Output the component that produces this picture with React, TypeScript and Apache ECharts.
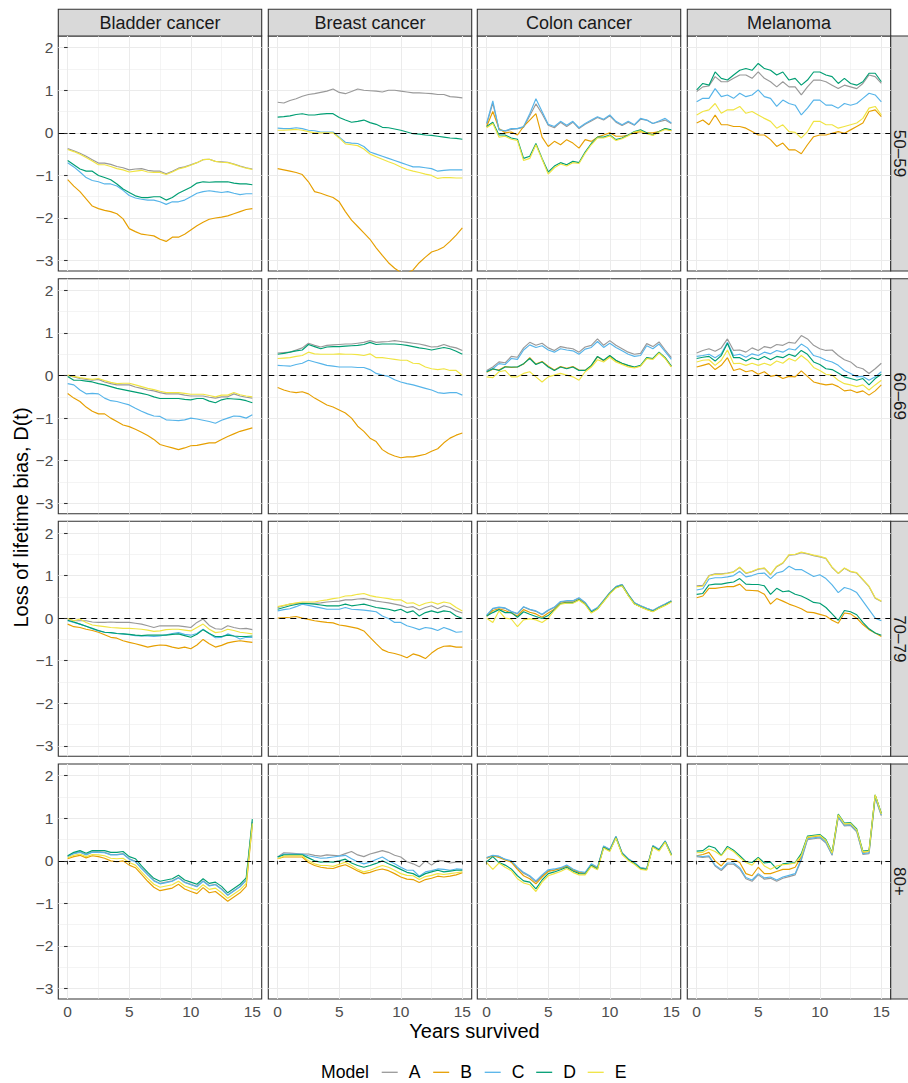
import { useEffect, useRef } from 'react';
import * as echarts from 'echarts';

const cancers = ['Bladder cancer', 'Breast cancer', 'Colon cancer', 'Melanoma'];
const ageGroups = ['50–59', '60–69', '70–79', '80+'];
const models = ['A', 'B', 'C', 'D', 'E'];
const modelColors = ['#999999', '#E69F00', '#56B4E9', '#009E73', '#F0E442'];
const years = [0, 0.5, 1, 1.5, 2, 2.5, 3, 3.5, 4, 4.5, 5, 5.5, 6, 6.5, 7, 7.5, 8, 8.5, 9, 9.5, 10, 10.5, 11, 11.5, 12, 12.5, 13, 13.5, 14, 14.5, 15];
const xTickValues = [0, 5, 10, 15];
const xMinorValues = [2.5, 7.5, 12.5];
const yTickValues = [-3, -2, -1, 0, 1, 2];
const yMinorValues = [-2.5, -1.5, -0.5, 0.5, 1.5];
const xAxisTitle = 'Years survived';
const yAxisTitle = 'Loss of lifetime bias, D(t)';
const legendTitle = 'Model';

// ---- 50–59 ----
const bladder5059A = [-0.37,-0.42,-0.48,-0.55,-0.63,-0.71,-0.71,-0.74,-0.79,-0.82,-0.87,-0.85,-0.84,-0.88,-0.9,-0.9,-0.96,-0.9,-0.83,-0.8,-0.75,-0.7,-0.63,-0.62,-0.67,-0.68,-0.69,-0.73,-0.78,-0.82,-0.85];
const bladder5059B = [-1.1,-1.25,-1.38,-1.55,-1.72,-1.78,-1.82,-1.85,-1.9,-2.02,-2.25,-2.32,-2.38,-2.4,-2.42,-2.5,-2.55,-2.45,-2.45,-2.38,-2.28,-2.18,-2.1,-2.03,-2.0,-1.98,-1.95,-1.9,-1.85,-1.8,-1.78];
const bladder5059C = [-0.7,-0.8,-0.92,-1.05,-1.12,-1.15,-1.2,-1.2,-1.25,-1.35,-1.47,-1.53,-1.56,-1.58,-1.58,-1.62,-1.68,-1.62,-1.62,-1.58,-1.5,-1.42,-1.38,-1.36,-1.38,-1.4,-1.38,-1.42,-1.45,-1.43,-1.43];
const bladder5059D = [-0.65,-0.75,-0.85,-0.9,-0.9,-1.0,-1.05,-1.1,-1.2,-1.32,-1.4,-1.48,-1.52,-1.52,-1.5,-1.5,-1.58,-1.52,-1.42,-1.35,-1.28,-1.18,-1.15,-1.16,-1.15,-1.15,-1.15,-1.18,-1.2,-1.2,-1.22];
const bladder5059E = [-0.39,-0.44,-0.5,-0.58,-0.66,-0.75,-0.75,-0.79,-0.84,-0.87,-0.92,-0.9,-0.88,-0.92,-0.93,-0.93,-0.98,-0.92,-0.85,-0.81,-0.76,-0.7,-0.63,-0.62,-0.67,-0.69,-0.7,-0.74,-0.79,-0.83,-0.86];

const breast5059A = [0.72,0.7,0.76,0.8,0.86,0.9,0.92,0.95,0.98,1.03,0.95,0.92,0.97,1.03,1.0,0.99,0.98,0.96,1.0,1.0,0.98,0.96,0.94,0.94,0.93,0.92,0.9,0.9,0.85,0.84,0.82];
const breast5059B = [-0.84,-0.87,-0.9,-0.93,-0.98,-1.15,-1.38,-1.42,-1.47,-1.52,-1.62,-1.85,-2.05,-2.2,-2.35,-2.5,-2.7,-2.88,-3.05,-3.18,-3.28,-3.3,-3.22,-3.05,-2.92,-2.8,-2.75,-2.68,-2.55,-2.4,-2.23];
const breast5059C = [0.11,0.1,0.1,0.12,0.1,0.06,0.05,0.02,0.02,0.02,-0.1,-0.22,-0.24,-0.25,-0.32,-0.45,-0.5,-0.55,-0.6,-0.65,-0.7,-0.75,-0.8,-0.8,-0.82,-0.84,-0.9,-0.88,-0.87,-0.87,-0.87];
const breast5059D = [0.37,0.38,0.4,0.43,0.45,0.42,0.42,0.44,0.45,0.45,0.36,0.3,0.25,0.27,0.3,0.24,0.2,0.13,0.12,0.09,0.06,0.02,-0.02,-0.03,-0.05,-0.06,-0.08,-0.1,-0.12,-0.13,-0.15];
const breast5059E = [0.06,0.06,0.07,0.08,0.06,0.03,0.0,0.0,0.0,0.0,-0.12,-0.26,-0.28,-0.3,-0.38,-0.5,-0.56,-0.62,-0.68,-0.73,-0.8,-0.86,-0.9,-0.93,-0.97,-1.0,-1.07,-1.05,-1.05,-1.06,-1.06];

const colon5059A = [0.2,0.7,0.08,0.04,0.08,0.1,0.13,0.4,0.68,0.45,0.18,0.12,0.25,0.15,0.25,0.1,0.2,0.28,0.36,0.3,0.4,0.25,0.17,0.25,0.18,0.32,0.3,0.22,0.26,0.3,0.22];
const colon5059B = [0.15,0.5,0.1,0.0,0.02,-0.05,0.15,0.3,0.45,-0.1,-0.32,-0.2,-0.28,-0.16,-0.24,-0.36,-0.16,-0.2,-0.1,-0.05,0.0,-0.08,-0.08,-0.05,0.0,0.03,0.0,0.0,0.03,0.1,0.05];
const colon5059C = [0.23,0.75,0.07,0.05,0.1,0.1,0.15,0.45,0.8,0.5,0.2,0.15,0.27,0.18,0.27,0.12,0.22,0.3,0.38,0.32,0.42,0.27,0.19,0.27,0.19,0.34,0.3,0.22,0.28,0.34,0.23];
const colon5059D = [0.15,0.25,-0.05,-0.05,-0.12,-0.15,-0.6,-0.55,-0.25,-0.6,-0.92,-0.78,-0.7,-0.75,-0.67,-0.7,-0.45,-0.25,-0.1,-0.1,-0.05,-0.16,-0.12,-0.05,0.03,0.07,0.0,-0.05,0.03,0.1,0.07];
const colon5059E = [0.12,0.22,-0.1,-0.08,-0.15,-0.18,-0.65,-0.6,-0.28,-0.62,-0.97,-0.82,-0.73,-0.78,-0.7,-0.72,-0.48,-0.28,-0.12,-0.12,-0.07,-0.18,-0.14,-0.07,0.02,0.05,-0.02,-0.06,0.02,0.08,0.05];

const melanoma5059A = [0.97,1.08,1.1,1.32,1.2,1.2,1.28,1.36,1.36,1.28,1.43,1.28,1.2,1.08,1.2,1.08,1.08,0.89,1.08,1.24,1.24,1.2,1.12,1.04,1.12,1.08,1.04,1.16,1.36,1.32,1.16];
const melanoma5059B = [0.23,0.3,0.19,0.42,0.19,0.19,0.15,0.15,0.11,0.03,-0.05,-0.05,-0.16,-0.32,-0.24,-0.4,-0.4,-0.49,-0.28,-0.09,-0.05,-0.05,-0.01,0.03,-0.01,0.07,0.15,0.23,0.5,0.54,0.38];
const melanoma5059C = [0.73,0.81,0.81,1.04,0.85,0.89,0.81,0.93,0.85,0.89,1.01,0.85,0.81,0.62,0.77,0.69,0.65,0.42,0.58,0.77,0.77,0.65,0.65,0.58,0.69,0.65,0.69,0.81,0.93,0.89,0.73];
const melanoma5059D = [1.01,1.16,1.12,1.43,1.28,1.24,1.36,1.47,1.51,1.47,1.63,1.51,1.47,1.36,1.43,1.24,1.28,1.12,1.24,1.43,1.43,1.36,1.32,1.16,1.28,1.16,1.12,1.2,1.4,1.4,1.2];
const melanoma5059E = [0.42,0.5,0.54,0.69,0.46,0.54,0.54,0.62,0.46,0.5,0.42,0.34,0.27,0.11,0.19,0.03,0.01,-0.12,0.03,0.27,0.27,0.19,0.19,0.11,0.15,0.19,0.23,0.34,0.58,0.62,0.42];

// ---- 60–69 ----
const bladder6069A = [0,-0.03,-0.07,-0.09,-0.11,-0.09,-0.15,-0.19,-0.22,-0.22,-0.22,-0.27,-0.3,-0.34,-0.36,-0.4,-0.43,-0.43,-0.43,-0.46,-0.48,-0.48,-0.48,-0.51,-0.53,-0.5,-0.5,-0.43,-0.48,-0.51,-0.53];
const bladder6069B = [-0.42,-0.53,-0.61,-0.74,-0.84,-0.9,-0.9,-1.0,-1.08,-1.16,-1.2,-1.26,-1.33,-1.41,-1.5,-1.62,-1.66,-1.7,-1.74,-1.7,-1.65,-1.64,-1.61,-1.58,-1.58,-1.5,-1.43,-1.37,-1.31,-1.27,-1.23];
const bladder6069C = [-0.19,-0.22,-0.34,-0.43,-0.42,-0.43,-0.53,-0.59,-0.61,-0.65,-0.69,-0.77,-0.84,-0.9,-0.95,-0.96,-1.04,-1.05,-1.06,-1.04,-1.0,-1.02,-1.05,-1.08,-1.12,-1.05,-1.0,-0.95,-0.96,-1.0,-0.92];
const bladder6069D = [-0.02,-0.11,-0.11,-0.13,-0.15,-0.19,-0.22,-0.26,-0.3,-0.33,-0.36,-0.39,-0.42,-0.45,-0.5,-0.54,-0.54,-0.54,-0.54,-0.56,-0.57,-0.54,-0.54,-0.6,-0.64,-0.57,-0.54,-0.55,-0.56,-0.59,-0.64];
const bladder6069E = [0.01,-0.02,-0.05,-0.07,-0.09,-0.07,-0.12,-0.16,-0.19,-0.18,-0.18,-0.22,-0.26,-0.3,-0.33,-0.37,-0.4,-0.4,-0.4,-0.42,-0.44,-0.44,-0.44,-0.47,-0.5,-0.46,-0.46,-0.4,-0.45,-0.48,-0.5];

const breast6069A = [0.53,0.54,0.55,0.6,0.65,0.76,0.71,0.67,0.71,0.72,0.73,0.74,0.74,0.76,0.78,0.82,0.78,0.79,0.8,0.82,0.8,0.78,0.76,0.74,0.71,0.67,0.68,0.73,0.68,0.65,0.59];
const breast6069B = [-0.28,-0.34,-0.38,-0.4,-0.38,-0.43,-0.53,-0.61,-0.69,-0.74,-0.81,-0.88,-1.0,-1.19,-1.31,-1.47,-1.55,-1.74,-1.83,-1.89,-1.93,-1.91,-1.91,-1.88,-1.85,-1.78,-1.72,-1.58,-1.47,-1.4,-1.35];
const breast6069C = [0.24,0.23,0.22,0.26,0.29,0.36,0.32,0.28,0.24,0.22,0.2,0.2,0.2,0.19,0.19,0.14,0.05,0.01,-0.02,-0.1,-0.15,-0.19,-0.22,-0.26,-0.3,-0.34,-0.4,-0.42,-0.4,-0.4,-0.46];
const breast6069D = [0.5,0.52,0.55,0.58,0.6,0.73,0.68,0.63,0.67,0.68,0.68,0.69,0.7,0.71,0.73,0.78,0.73,0.74,0.74,0.74,0.73,0.71,0.68,0.65,0.63,0.6,0.63,0.66,0.63,0.57,0.5];
const breast6069E = [0.4,0.41,0.42,0.45,0.47,0.55,0.51,0.5,0.5,0.5,0.51,0.5,0.5,0.49,0.47,0.51,0.42,0.42,0.4,0.38,0.36,0.36,0.29,0.28,0.2,0.16,0.14,0.16,0.12,0.12,0.0];

const colon6069A = [0.12,0.2,0.32,0.3,0.45,0.43,0.65,0.78,0.71,0.76,0.65,0.59,0.68,0.65,0.63,0.55,0.67,0.71,0.86,0.71,0.82,0.71,0.63,0.55,0.5,0.52,0.75,0.68,0.79,0.6,0.42];
const colon6069B = [0.08,0.15,0.13,0.21,0.19,0.2,0.27,0.42,0.27,0.33,0.22,0.13,0.21,0.17,0.21,0.13,0.12,0.23,0.44,0.35,0.46,0.35,0.28,0.23,0.19,0.23,0.41,0.39,0.54,0.41,0.21];
const colon6069C = [0.1,0.16,0.28,0.26,0.4,0.38,0.6,0.72,0.66,0.7,0.6,0.55,0.63,0.6,0.58,0.5,0.62,0.66,0.8,0.66,0.76,0.66,0.58,0.5,0.45,0.47,0.7,0.63,0.74,0.56,0.38];
const colon6069D = [0.09,0.16,0.12,0.2,0.2,0.2,0.28,0.4,0.26,0.32,0.2,0.12,0.2,0.16,0.2,0.12,0.12,0.24,0.45,0.36,0.47,0.36,0.29,0.24,0.2,0.24,0.42,0.4,0.55,0.42,0.22];
const colon6069E = [-0.03,-0.05,0.09,0.12,-0.03,-0.03,0.05,0.09,-0.03,-0.15,-0.03,0.01,0.05,0.01,-0.03,-0.11,0.09,0.2,0.37,0.32,0.43,0.32,0.26,0.2,0.18,0.22,0.4,0.38,0.53,0.4,0.2];

const melanoma6069A = [0.53,0.59,0.63,0.57,0.65,0.86,0.59,0.6,0.55,0.65,0.59,0.68,0.65,0.73,0.71,0.78,0.76,0.94,0.86,0.71,0.63,0.59,0.6,0.47,0.37,0.32,0.2,0.16,0.05,0.16,0.29];
const melanoma6069B = [0.2,0.24,0.28,0.14,0.24,0.42,0.12,0.16,0.09,0.12,0.03,0.09,-0.02,0.01,-0.07,-0.02,-0.03,0.11,-0.02,-0.15,-0.19,-0.22,-0.2,-0.26,-0.36,-0.34,-0.4,-0.36,-0.46,-0.36,-0.22];
const melanoma6069C = [0.45,0.47,0.5,0.42,0.51,0.78,0.47,0.5,0.43,0.51,0.47,0.55,0.51,0.59,0.55,0.63,0.6,0.74,0.65,0.47,0.43,0.36,0.32,0.24,0.12,0.05,-0.03,-0.02,-0.11,-0.03,0.09];
const melanoma6069D = [0.4,0.43,0.45,0.34,0.47,0.76,0.42,0.42,0.34,0.42,0.37,0.45,0.37,0.45,0.42,0.5,0.45,0.59,0.5,0.32,0.26,0.16,0.14,0.06,-0.03,-0.07,-0.11,-0.07,-0.22,-0.07,0.03];
const melanoma6069E = [0.32,0.36,0.37,0.24,0.36,0.6,0.28,0.29,0.24,0.29,0.24,0.29,0.24,0.34,0.29,0.4,0.34,0.47,0.36,0.19,0.12,0.03,0.01,-0.11,-0.19,-0.22,-0.26,-0.22,-0.34,-0.22,-0.11];

// ---- 70–79 ----
const bladder7079A = [-0.02,-0.06,-0.06,-0.06,-0.09,-0.1,-0.1,-0.09,-0.1,-0.1,-0.1,-0.12,-0.14,-0.18,-0.22,-0.18,-0.18,-0.18,-0.18,-0.2,-0.22,-0.1,-0.02,-0.17,-0.25,-0.26,-0.18,-0.22,-0.25,-0.24,-0.27];
const bladder7079B = [-0.14,-0.2,-0.22,-0.26,-0.29,-0.33,-0.39,-0.45,-0.47,-0.53,-0.57,-0.6,-0.64,-0.68,-0.65,-0.63,-0.64,-0.68,-0.71,-0.68,-0.72,-0.63,-0.5,-0.6,-0.68,-0.64,-0.58,-0.55,-0.53,-0.55,-0.57];
const bladder7079C = [-0.06,-0.1,-0.14,-0.19,-0.25,-0.3,-0.33,-0.34,-0.36,-0.37,-0.39,-0.41,-0.42,-0.42,-0.43,-0.42,-0.39,-0.36,-0.34,-0.38,-0.4,-0.36,-0.26,-0.36,-0.46,-0.45,-0.37,-0.42,-0.49,-0.45,-0.45];
const bladder7079D = [-0.05,-0.09,-0.14,-0.19,-0.24,-0.29,-0.33,-0.34,-0.36,-0.37,-0.38,-0.4,-0.41,-0.4,-0.4,-0.4,-0.4,-0.38,-0.37,-0.41,-0.45,-0.38,-0.27,-0.36,-0.43,-0.43,-0.4,-0.42,-0.43,-0.43,-0.42];
const bladder7079E = [-0.01,-0.06,-0.02,-0.1,-0.16,-0.18,-0.2,-0.22,-0.23,-0.24,-0.24,-0.25,-0.26,-0.28,-0.31,-0.3,-0.27,-0.26,-0.26,-0.28,-0.3,-0.22,-0.14,-0.26,-0.34,-0.32,-0.26,-0.29,-0.33,-0.35,-0.37];

const breast7079A = [0.25,0.29,0.33,0.34,0.35,0.35,0.35,0.36,0.38,0.39,0.4,0.43,0.43,0.45,0.46,0.43,0.4,0.38,0.36,0.33,0.3,0.25,0.27,0.19,0.25,0.29,0.22,0.29,0.25,0.17,0.12];
const breast7079B = [0.0,0.01,0.02,0.04,0.0,-0.03,-0.06,-0.08,-0.1,-0.11,-0.16,-0.18,-0.21,-0.24,-0.3,-0.45,-0.6,-0.74,-0.8,-0.83,-0.87,-0.93,-0.84,-0.88,-0.95,-0.82,-0.72,-0.66,-0.65,-0.68,-0.68];
const breast7079C = [0.17,0.2,0.22,0.27,0.33,0.3,0.27,0.24,0.21,0.21,0.21,0.25,0.21,0.2,0.19,0.17,0.15,0.05,-0.01,-0.1,-0.1,-0.18,-0.22,-0.27,-0.22,-0.24,-0.29,-0.22,-0.27,-0.33,-0.32];
const breast7079D = [0.21,0.25,0.29,0.32,0.35,0.34,0.33,0.31,0.29,0.29,0.29,0.33,0.29,0.31,0.33,0.29,0.25,0.23,0.21,0.17,0.21,0.13,0.17,0.05,0.13,0.17,0.13,0.17,0.15,0.05,-0.01];
const breast7079E = [0.27,0.3,0.33,0.36,0.38,0.38,0.38,0.41,0.43,0.46,0.48,0.52,0.53,0.56,0.58,0.53,0.5,0.48,0.46,0.43,0.43,0.35,0.36,0.29,0.35,0.38,0.33,0.38,0.35,0.25,0.17];

const colon7079A = [0.06,0.22,0.25,0.23,0.15,0.1,0.26,0.2,0.16,0.08,0.18,0.25,0.38,0.4,0.4,0.47,0.36,0.16,0.24,0.42,0.6,0.74,0.79,0.56,0.36,0.29,0.23,0.18,0.26,0.33,0.41];
const colon7079B = [0.04,0.18,0.22,0.18,0.12,0.05,0.2,0.14,0.1,0.02,0.12,0.21,0.35,0.37,0.37,0.44,0.34,0.14,0.22,0.4,0.58,0.72,0.77,0.54,0.34,0.27,0.21,0.16,0.24,0.31,0.39];
const colon7079C = [0.07,0.23,0.26,0.24,0.16,0.11,0.27,0.21,0.17,0.09,0.19,0.26,0.39,0.41,0.41,0.48,0.37,0.17,0.25,0.42,0.6,0.74,0.79,0.56,0.36,0.29,0.23,0.18,0.26,0.33,0.41];
const colon7079D = [0.05,0.13,0.2,0.13,0.13,0.02,0.15,0.09,0.04,-0.01,0.06,0.2,0.34,0.36,0.36,0.43,0.33,0.14,0.22,0.4,0.58,0.72,0.77,0.54,0.34,0.27,0.21,0.16,0.24,0.31,0.39];
const colon7079E = [0.0,-0.1,0.17,0.0,-0.02,-0.2,-0.04,-0.01,-0.04,-0.1,0.0,0.18,0.33,0.35,0.35,0.42,0.32,0.12,0.21,0.39,0.57,0.71,0.76,0.53,0.33,0.26,0.2,0.15,0.23,0.3,0.38];

const melanoma7079A = [0.76,0.77,1.0,1.04,1.04,1.06,1.09,1.19,1.05,1.09,1.15,1.17,1.02,1.21,1.29,1.48,1.49,1.54,1.51,1.47,1.44,1.4,1.19,1.05,1.17,1.09,1.06,0.9,0.74,0.47,0.39];
const melanoma7079B = [0.48,0.52,0.7,0.7,0.72,0.74,0.74,0.8,0.66,0.65,0.64,0.56,0.33,0.46,0.4,0.33,0.28,0.22,0.14,0.13,0.09,0.05,-0.05,-0.12,0.12,0.1,0.0,-0.15,-0.27,-0.35,-0.43];
const melanoma7079C = [0.66,0.69,0.92,0.95,0.95,0.97,1.0,1.1,0.97,1.0,1.05,1.06,0.93,1.06,1.1,1.22,1.14,1.14,1.06,0.98,1.02,0.93,0.78,0.6,0.72,0.68,0.6,0.4,0.2,0.0,-0.06];
const melanoma7079D = [0.56,0.58,0.78,0.8,0.8,0.83,0.85,0.93,0.8,0.79,0.79,0.76,0.56,0.7,0.62,0.64,0.56,0.52,0.45,0.37,0.35,0.25,0.1,-0.05,0.18,0.15,0.08,-0.1,-0.25,-0.35,-0.4];
const melanoma7079E = [0.74,0.75,0.99,1.03,1.03,1.05,1.08,1.2,1.06,1.1,1.16,1.18,1.03,1.22,1.3,1.49,1.5,1.55,1.52,1.48,1.45,1.41,1.2,1.05,1.18,1.1,1.07,0.91,0.75,0.48,0.4];

// ---- 80+ ----
const bladder80A = [0.11,0.18,0.21,0.15,0.21,0.21,0.2,0.15,0.15,0.17,0.05,-0.01,-0.17,-0.32,-0.46,-0.53,-0.5,-0.47,-0.39,-0.5,-0.55,-0.6,-0.47,-0.58,-0.55,-0.66,-0.8,-0.7,-0.6,-0.45,0.92];
const bladder80B = [0.05,0.1,0.13,0.07,0.12,0.1,0.06,0.0,-0.02,0.0,-0.1,-0.16,-0.32,-0.48,-0.62,-0.7,-0.67,-0.64,-0.55,-0.66,-0.72,-0.77,-0.63,-0.75,-0.72,-0.83,-0.95,-0.85,-0.75,-0.6,0.85];
const bladder80C = [0.1,0.17,0.2,0.14,0.2,0.2,0.19,0.14,0.14,0.16,0.04,-0.02,-0.18,-0.33,-0.47,-0.54,-0.51,-0.48,-0.4,-0.51,-0.56,-0.61,-0.48,-0.59,-0.56,-0.67,-0.81,-0.71,-0.61,-0.46,0.9];
const bladder80D = [0.12,0.2,0.24,0.18,0.24,0.24,0.24,0.2,0.2,0.22,0.1,0.05,-0.12,-0.27,-0.41,-0.48,-0.45,-0.42,-0.34,-0.45,-0.5,-0.55,-0.42,-0.53,-0.5,-0.6,-0.75,-0.65,-0.55,-0.4,0.98];
const bladder80E = [0.07,0.13,0.16,0.1,0.15,0.14,0.12,0.06,0.05,0.06,-0.04,-0.1,-0.26,-0.41,-0.55,-0.62,-0.59,-0.56,-0.48,-0.59,-0.64,-0.69,-0.56,-0.67,-0.64,-0.75,-0.88,-0.78,-0.68,-0.53,0.88];

const breast80A = [0.09,0.19,0.18,0.17,0.16,0.16,0.13,0.11,0.14,0.13,0.12,0.17,0.22,0.14,0.1,0.16,0.2,0.24,0.2,0.13,0.09,-0.02,-0.07,-0.14,0.0,-0.1,0.01,0.0,-0.05,-0.03,-0.03];
const breast80B = [0.05,0.09,0.09,0.09,0.09,-0.04,-0.11,-0.15,-0.17,-0.18,-0.13,-0.09,-0.16,-0.24,-0.3,-0.27,-0.22,-0.19,-0.23,-0.3,-0.38,-0.43,-0.44,-0.51,-0.44,-0.41,-0.36,-0.38,-0.36,-0.33,-0.28];
const breast80C = [0.09,0.16,0.16,0.16,0.16,0.12,0.09,0.06,0.07,0.09,0.11,0.13,0.05,-0.02,-0.07,-0.03,0.03,0.09,0.0,-0.07,-0.15,-0.22,-0.22,-0.36,-0.26,-0.23,-0.19,-0.2,-0.22,-0.19,-0.2];
const breast80D = [0.09,0.14,0.14,0.14,0.14,0.07,0.0,-0.03,-0.02,-0.03,0.0,0.04,-0.05,-0.11,-0.15,-0.11,-0.06,0.0,-0.07,-0.13,-0.2,-0.27,-0.3,-0.38,-0.3,-0.26,-0.22,-0.26,-0.24,-0.22,-0.22];
const breast80E = [0.05,0.11,0.12,0.12,0.12,0.0,-0.07,-0.11,-0.11,-0.13,-0.08,-0.03,-0.11,-0.2,-0.26,-0.22,-0.16,-0.11,-0.15,-0.22,-0.3,-0.34,-0.35,-0.44,-0.37,-0.34,-0.3,-0.32,-0.3,-0.28,-0.26];

const colon80A = [0.07,0.12,0.1,0.03,-0.01,-0.17,-0.29,-0.37,-0.5,-0.35,-0.23,-0.21,-0.18,-0.12,-0.21,-0.27,-0.29,-0.09,-0.17,0.33,0.25,0.56,0.18,0.04,-0.05,-0.17,-0.19,0.35,0.26,0.46,0.15];
const colon80B = [0.06,0.12,0.08,0.02,-0.03,-0.2,-0.35,-0.42,-0.54,-0.38,-0.25,-0.22,-0.18,-0.12,-0.21,-0.27,-0.29,-0.09,-0.17,0.34,0.26,0.57,0.18,0.04,-0.05,-0.17,-0.19,0.35,0.26,0.46,0.15];
const colon80C = [0.08,0.13,0.11,0.04,0.0,-0.15,-0.27,-0.35,-0.47,-0.33,-0.21,-0.19,-0.16,-0.1,-0.19,-0.25,-0.27,-0.07,-0.15,0.35,0.27,0.58,0.19,0.05,-0.04,-0.16,-0.18,0.36,0.27,0.47,0.16];
const colon80D = [-0.02,0.1,-0.04,-0.1,-0.19,-0.35,-0.47,-0.5,-0.66,-0.45,-0.3,-0.26,-0.21,-0.15,-0.24,-0.3,-0.31,-0.11,-0.19,0.32,0.24,0.55,0.17,0.03,-0.06,-0.18,-0.2,0.34,0.25,0.45,0.14];
const colon80E = [-0.04,-0.2,-0.05,-0.15,-0.23,-0.42,-0.52,-0.56,-0.72,-0.5,-0.35,-0.3,-0.25,-0.18,-0.27,-0.33,-0.33,-0.13,-0.21,0.3,0.22,0.54,0.15,0.01,-0.08,-0.2,-0.22,0.32,0.23,0.44,0.12];

const melanoma80A = [0.1,0.08,0.1,-0.12,-0.23,-0.08,-0.08,-0.19,-0.42,-0.48,-0.33,-0.43,-0.41,-0.48,-0.41,-0.37,-0.33,0.02,0.5,0.52,0.54,0.42,0.13,1.02,0.82,0.83,0.68,0.15,0.17,1.48,1.06];
const melanoma80B = [0.12,0.15,0.2,0.0,-0.12,0.05,0.03,-0.04,-0.3,-0.35,-0.15,-0.3,-0.3,-0.25,-0.2,-0.2,-0.15,0.1,0.55,0.57,0.59,0.47,0.17,1.07,0.86,0.87,0.72,0.2,0.22,1.54,1.1];
const melanoma80C = [0.12,0.1,0.12,-0.1,-0.2,-0.05,-0.05,-0.16,-0.39,-0.45,-0.3,-0.4,-0.38,-0.45,-0.38,-0.34,-0.3,0.05,0.52,0.54,0.56,0.44,0.15,1.04,0.84,0.85,0.7,0.17,0.19,1.5,1.08];
const melanoma80D = [0.23,0.24,0.35,0.3,0.13,0.34,0.25,0.12,-0.02,-0.04,0.08,-0.05,-0.03,-0.19,-0.07,-0.05,-0.04,0.17,0.58,0.6,0.62,0.5,0.2,1.1,0.89,0.9,0.75,0.23,0.25,1.55,1.12];
const melanoma80E = [0.19,0.2,0.28,0.22,0.12,0.3,0.22,0.08,-0.04,-0.1,0.06,-0.12,-0.2,-0.12,-0.09,-0.08,-0.05,0.12,0.56,0.58,0.6,0.48,0.18,1.08,0.87,0.88,0.73,0.21,0.23,1.55,1.1];

// rows = age groups, columns = cancers, inner = models A..E
const panelData = [
  [
    [bladder5059A, bladder5059B, bladder5059C, bladder5059D, bladder5059E],
    [breast5059A, breast5059B, breast5059C, breast5059D, breast5059E],
    [colon5059A, colon5059B, colon5059C, colon5059D, colon5059E],
    [melanoma5059A, melanoma5059B, melanoma5059C, melanoma5059D, melanoma5059E],
  ],
  [
    [bladder6069A, bladder6069B, bladder6069C, bladder6069D, bladder6069E],
    [breast6069A, breast6069B, breast6069C, breast6069D, breast6069E],
    [colon6069A, colon6069B, colon6069C, colon6069D, colon6069E],
    [melanoma6069A, melanoma6069B, melanoma6069C, melanoma6069D, melanoma6069E],
  ],
  [
    [bladder7079A, bladder7079B, bladder7079C, bladder7079D, bladder7079E],
    [breast7079A, breast7079B, breast7079C, breast7079D, breast7079E],
    [colon7079A, colon7079B, colon7079C, colon7079D, colon7079E],
    [melanoma7079A, melanoma7079B, melanoma7079C, melanoma7079D, melanoma7079E],
  ],
  [
    [bladder80A, bladder80B, bladder80C, bladder80D, bladder80E],
    [breast80A, breast80B, breast80C, breast80D, breast80E],
    [colon80A, colon80B, colon80C, colon80D, colon80E],
    [melanoma80A, melanoma80B, melanoma80C, melanoma80D, melanoma80E],
  ],
];

const FONT = '"Liberation Sans", Arial, Helvetica, sans-serif';
const XMIN = -0.76;
const XMAX = 15.76;
const YMIN = -3.245;
const YMAX = 2.275;
const colLeft = [58.3, 268.3, 477.3, 687.3];
const rowTop = [36, 278.7, 521.3, 764];
const PW = 203.4;
const PH = 235;

const fmt = (v: number) => (v < 0 ? '\u2212' + Math.abs(v) : String(v));

function buildOption() {
  const grid: any[] = [];
  const xAxis: any[] = [];
  const yAxis: any[] = [];
  const series: any[] = [];
  const graphic: any[] = [];

  for (let r = 0; r < 4; r++) {
    for (let c = 0; c < 4; c++) {
      const g = r * 4 + c;
      const bottom = r === 3;
      const left = c === 0;
      grid.push({
        left: colLeft[c], top: rowTop[r], width: PW, height: PH,
        show: true, borderColor: '#333333', borderWidth: 1.1, backgroundColor: '#FFFFFF',
      });
      xAxis.push({
        type: 'value', gridIndex: g, min: XMIN, max: XMAX, position: 'bottom',
        axisLine: { show: false },
        axisTick: { show: bottom, length: 3.6, lineStyle: { color: '#333333', width: 1.07 }, customValues: xTickValues },
        axisLabel: { show: bottom, customValues: xTickValues, margin: 4, fontSize: 15.5, color: '#4D4D4D', fontFamily: FONT, formatter: fmt },
        splitLine: { show: true, lineStyle: { color: '#EBEBEB', width: 1.07 } },
      });
      xAxis.push({
        type: 'value', gridIndex: g, min: XMIN, max: XMAX, position: 'top',
        axisLine: { show: false },
        axisTick: { show: false, customValues: xMinorValues },
        axisLabel: { show: false, customValues: xMinorValues },
        splitLine: { show: true, lineStyle: { color: '#EBEBEB', width: 0.55 } },
      });
      yAxis.push({
        type: 'value', gridIndex: g, min: YMIN, max: YMAX, position: 'left',
        axisLine: { show: false },
        axisTick: { show: left, length: 3.6, lineStyle: { color: '#333333', width: 1.07 }, customValues: yTickValues },
        axisLabel: { show: left, customValues: yTickValues, margin: 5, fontSize: 15.5, color: '#4D4D4D', fontFamily: FONT, formatter: fmt },
        splitLine: { show: true, lineStyle: { color: '#EBEBEB', width: 1.07 } },
      });
      yAxis.push({
        type: 'value', gridIndex: g, min: YMIN, max: YMAX, position: 'right',
        axisLine: { show: false },
        axisTick: { show: false, customValues: yMinorValues },
        axisLabel: { show: false, customValues: yMinorValues },
        splitLine: { show: true, lineStyle: { color: '#EBEBEB', width: 0.55 } },
      });

      const vals = panelData[r][c];
      for (let m = 0; m < models.length; m++) {
        const s: any = {
          type: 'line', name: models[m], xAxisIndex: 2 * g, yAxisIndex: 2 * g,
          data: years.map((x, i) => [x, vals[m][i]]),
          symbol: 'none', showSymbol: false, clip: true, silent: true,
          lineStyle: { color: modelColors[m], width: 1.15 },
          itemStyle: { color: modelColors[m] },
          emphasis: { disabled: true },
          z: 3,
        };
        if (m === models.length - 1) {
          s.markLine = {
            silent: true, symbol: ['none', 'none'], label: { show: false },
            emphasis: { disabled: true },
            lineStyle: { color: '#000000', width: 1.15, type: [6, 5] },
            data: [{ yAxis: 0 }],
          };
        }
        series.push(s);
      }
    }
  }

  // top strips (cancer type)
  for (let c = 0; c < 4; c++) {
    graphic.push({
      type: 'rect', shape: { x: colLeft[c], y: 9.3, width: PW, height: 26.7 },
      style: { fill: '#D9D9D9', stroke: '#333333', lineWidth: 1.1 }, silent: true,
    });
    graphic.push({
      type: 'text', x: colLeft[c] + PW / 2, y: 22.7, silent: true,
      style: { text: cancers[c], fill: '#1A1A1A', fontSize: 18, fontFamily: FONT, align: 'center', verticalAlign: 'middle' },
    });
  }
  // right strips (age group)
  for (let r = 0; r < 4; r++) {
    graphic.push({
      type: 'rect', shape: { x: colLeft[3] + PW, y: rowTop[r], width: 24, height: PH },
      style: { fill: '#D9D9D9', stroke: '#333333', lineWidth: 1.1 }, silent: true,
    });
    graphic.push({
      type: 'text', x: 899.3, y: rowTop[r] + PH / 2, rotation: -Math.PI / 2, silent: true,
      style: { text: ageGroups[r], fill: '#1A1A1A', fontSize: 17, fontFamily: FONT, align: 'center', verticalAlign: 'middle' },
    });
  }
  // axis titles
  graphic.push({
    type: 'text', x: (colLeft[0] + colLeft[3] + PW) / 2, y: 1030.5, silent: true,
    style: { text: xAxisTitle, fill: '#000000', fontSize: 20, fontFamily: FONT, align: 'center', verticalAlign: 'middle' },
  });
  graphic.push({
    type: 'text', x: 21, y: (rowTop[0] + rowTop[3] + PH) / 2, rotation: Math.PI / 2, silent: true,
    style: { text: yAxisTitle, fill: '#000000', fontSize: 20, fontFamily: FONT, align: 'center', verticalAlign: 'middle' },
  });
  // legend
  graphic.push({
    type: 'text', x: 321, y: 1072, silent: true,
    style: { text: legendTitle, fill: '#000000', fontSize: 17.6, fontFamily: FONT, align: 'left', verticalAlign: 'middle' },
  });
  for (let m = 0; m < models.length; m++) {
    const x0 = 381.7 + m * 51.5;
    graphic.push({
      type: 'line', shape: { x1: x0, y1: 1072.3, x2: x0 + 16, y2: 1072.3 }, silent: true,
      style: { stroke: modelColors[m], lineWidth: 1.3 },
    });
    graphic.push({
      type: 'text', x: x0 + 27, y: 1072, silent: true,
      style: { text: models[m], fill: '#000000', fontSize: 17.6, fontFamily: FONT, align: 'left', verticalAlign: 'middle' },
    });
  }

  return {
    animation: false,
    backgroundColor: '#FFFFFF',
    textStyle: { fontFamily: FONT },
    grid, xAxis, yAxis, series, graphic,
  };
}

export default function App() {
  const ref = useRef<HTMLDivElement>(null);
  useEffect(() => {
    if (!ref.current) return;
    const chart = echarts.init(ref.current, null, { renderer: 'svg' });
    chart.setOption(buildOption() as any);
    return () => chart.dispose();
  }, []);
  return (
    <div
      ref={ref}
      style={{ position: 'absolute', left: 0, top: 0, width: 908, height: 1083, background: '#FFFFFF' }}
    />
  );
}
